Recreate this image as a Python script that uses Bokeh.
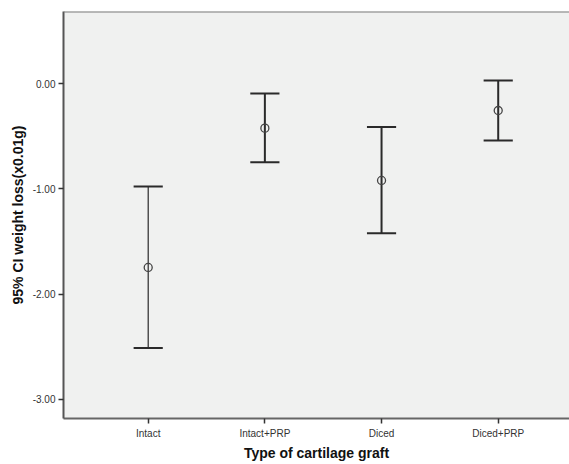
from bokeh.plotting import figure
from bokeh.models import ColumnDataSource, FixedTicker, NumeralTickFormatter, Title, Range1d, Span
from bokeh.embed import file_html
from bokeh.resources import INLINE

# ---- data ----
categories = ["Intact", "Intact+PRP", "Diced", "Diced+PRP"]
means = [-1.746, -0.422, -0.919, -0.254]
ci_lower = [-2.513, -0.745, -1.420, -0.539]
ci_upper = [-0.976, -0.092, -0.412, 0.031]
y_ticks = [0.0, -1.0, -2.0, -3.0]

# ---- style ----
stem_widths = [1.2, 2, 2, 2]
cap_half = 0.125
FONT = "Liberation Sans"
Y_TOP = 0.687

xs = list(range(len(categories)))
src = ColumnDataSource(dict(
    x=xs, mean=means, lo=ci_lower, hi=ci_upper,
    x0=[x - cap_half for x in xs], x1=[x + cap_half for x in xs],
    w=stem_widths,
))

p = figure(width=569, height=464, output_backend="svg", toolbar_location=None,
           x_range=Range1d(-0.726, 3.611), y_range=Range1d(-3.182, Y_TOP),
           min_border_left=63, min_border_right=0, min_border_top=11, min_border_bottom=46)

p.background_fill_color = "#f0f1f0"
p.border_fill_color = "white"
p.outline_line_color = None
p.grid.visible = False

# top frame line (the right side of the frame lies beyond the picture)
p.add_layout(Span(location=Y_TOP, dimension="width", line_color="#7a7a7a", line_width=2))

# stems
p.segment(x0="x", y0="lo", x1="x", y1="hi", source=src, line_color="#2a2a2a", line_width="w")
# caps
p.segment(x0="x0", y0="hi", x1="x1", y1="hi", source=src, line_color="#2a2a2a", line_width=2)
p.segment(x0="x0", y0="lo", x1="x1", y1="lo", source=src, line_color="#2a2a2a", line_width=2)
# means
p.scatter(x="x", y="mean", source=src, marker="circle", size=8, fill_color=None,
          line_color="#444444", line_width=1.3)

# y axis
ya = p.yaxis[0]
ya.ticker = FixedTicker(ticks=y_ticks)
ya.formatter = NumeralTickFormatter(format="0.00")
ya.axis_label = "95% CI weight loss(x0.01g)"
ya.axis_label_text_font = FONT
ya.axis_label_text_font_style = "bold"
ya.axis_label_text_font_size = "14px"
ya.axis_label_text_color = "#111111"
ya.axis_label_standoff = 4
ya.major_label_text_font = FONT
ya.major_label_text_font_size = "10px"
ya.major_label_text_color = "#333333"
ya.major_label_standoff = 3
ya.major_tick_out = 5
ya.major_tick_in = 0
ya.minor_tick_out = 0
ya.minor_tick_in = 0
ya.axis_line_color = "#555555"
ya.axis_line_width = 2
ya.major_tick_line_color = "#333333"
ya.major_tick_line_width = 1.5

# x axis
xa = p.xaxis[0]
xa.ticker = FixedTicker(ticks=xs)
xa.major_label_overrides = {i: c for i, c in enumerate(categories)}
xa.major_label_text_font = FONT
xa.major_label_text_font_size = "10px"
xa.major_label_text_color = "#333333"
xa.major_label_standoff = 4
xa.major_tick_out = 5
xa.major_tick_in = 0
xa.minor_tick_out = 0
xa.minor_tick_in = 0
xa.axis_line_color = "#666666"
xa.axis_line_width = 2
xa.major_tick_line_color = "#333333"
xa.major_tick_line_width = 1.5

xtitle = Title(text="Type of cartilage graft", align="center", offset=6,
               text_font=FONT, text_font_style="bold", text_font_size="14px",
               text_color="#111111", standoff=3)
p.add_layout(xtitle, "below")

open("out.html", "w").write(file_html(p, INLINE))
